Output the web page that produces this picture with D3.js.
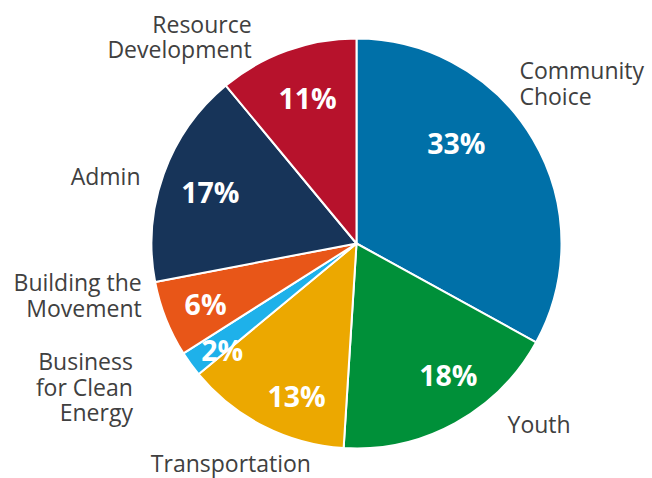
<!DOCTYPE html>
<html><head><meta charset="utf-8">
<script src="https://cdn.jsdelivr.net/npm/d3@7"></script>
<style>body{margin:0;background:#fff}</style>
</head><body>
<svg id="chart" width="652" height="478"></svg>
<script>
// Data
const categories = ["Community Choice","Youth","Transportation","Business for Clean Energy","Building the Movement","Admin","Resource Development"];
const labelLines = [["Community","Choice"],["Youth"],["Transportation"],["Business","for Clean","Energy"],["Building the","Movement"],["Admin"],["Resource","Development"]];
const values = [33,18,13,2,6,17,11];
const colors = ["#0070A8","#009039","#ECA800","#1EB1EA","#E85618","#173459","#B7122C"];

// Layout (label placement, polar: radius, angle in degrees from top)
const inLabelPolar = [[141,45.1],[161,145.2],[165,201.3],[172,231.3],[163,247.8],[154.5,289],[152.6,341.3]];
const outLabelPolar = [[228,45.6],[236,140.2],[253.5,209.7],[266,237.2],[221,256.3],[226,287.1],[231,333]];
const outAnchor = ["start","start","middle","end","end","end","end"];

const svg = d3.select("#chart");
const cx = 356.5, cy = 243.5, R = 205;
const g = svg.append("g").attr("transform",`translate(${cx},${cy})`);

const pie = d3.pie().sort(null).value(d=>d);
const arcs = pie(values);
const arc = d3.arc().innerRadius(0).outerRadius(R);

g.selectAll("path").data(arcs).join("path")
  .attr("d",arc)
  .attr("fill",(d,i)=>colors[i])
  .attr("stroke","#fff").attr("stroke-width",2).attr("stroke-linejoin","round");

const pol = (r,a)=>{const t=a*Math.PI/180;return [r*Math.sin(t),-r*Math.cos(t)];};

// percentage labels
g.selectAll("text.pct").data(arcs).join("text")
  .attr("class","pct")
  .attr("x",(d,i)=>pol(...inLabelPolar[i])[0])
  .attr("y",(d,i)=>pol(...inLabelPolar[i])[1])
  .attr("dy","0.36em")
  .attr("text-anchor","middle")
  .attr("font-family","'Open Sans', 'Noto Sans', sans-serif")
  .attr("font-weight","bold")
  .attr("font-size",28.5)
  .attr("fill","#fff")
  .text(d=>d3.format(".0f")(d.value/d3.sum(values)*100)+"%");

// category labels
const lh = 25.5;
arcs.forEach((d,i)=>{
  const [x,y] = pol(...outLabelPolar[i]);
  const lines = labelLines[i];
  const t = g.append("text")
    .attr("text-anchor",outAnchor[i])
    .attr("font-family","'Open Sans', 'Noto Sans', sans-serif")
    .attr("font-size",23)
    .attr("fill","#404040");
  lines.forEach((ln,k)=>{
    t.append("tspan").attr("x",x)
     .attr("y",y + (k-(lines.length-1)/2)*lh)
     .attr("dy","0.35em").text(ln);
  });
});
</script>
</body></html>
